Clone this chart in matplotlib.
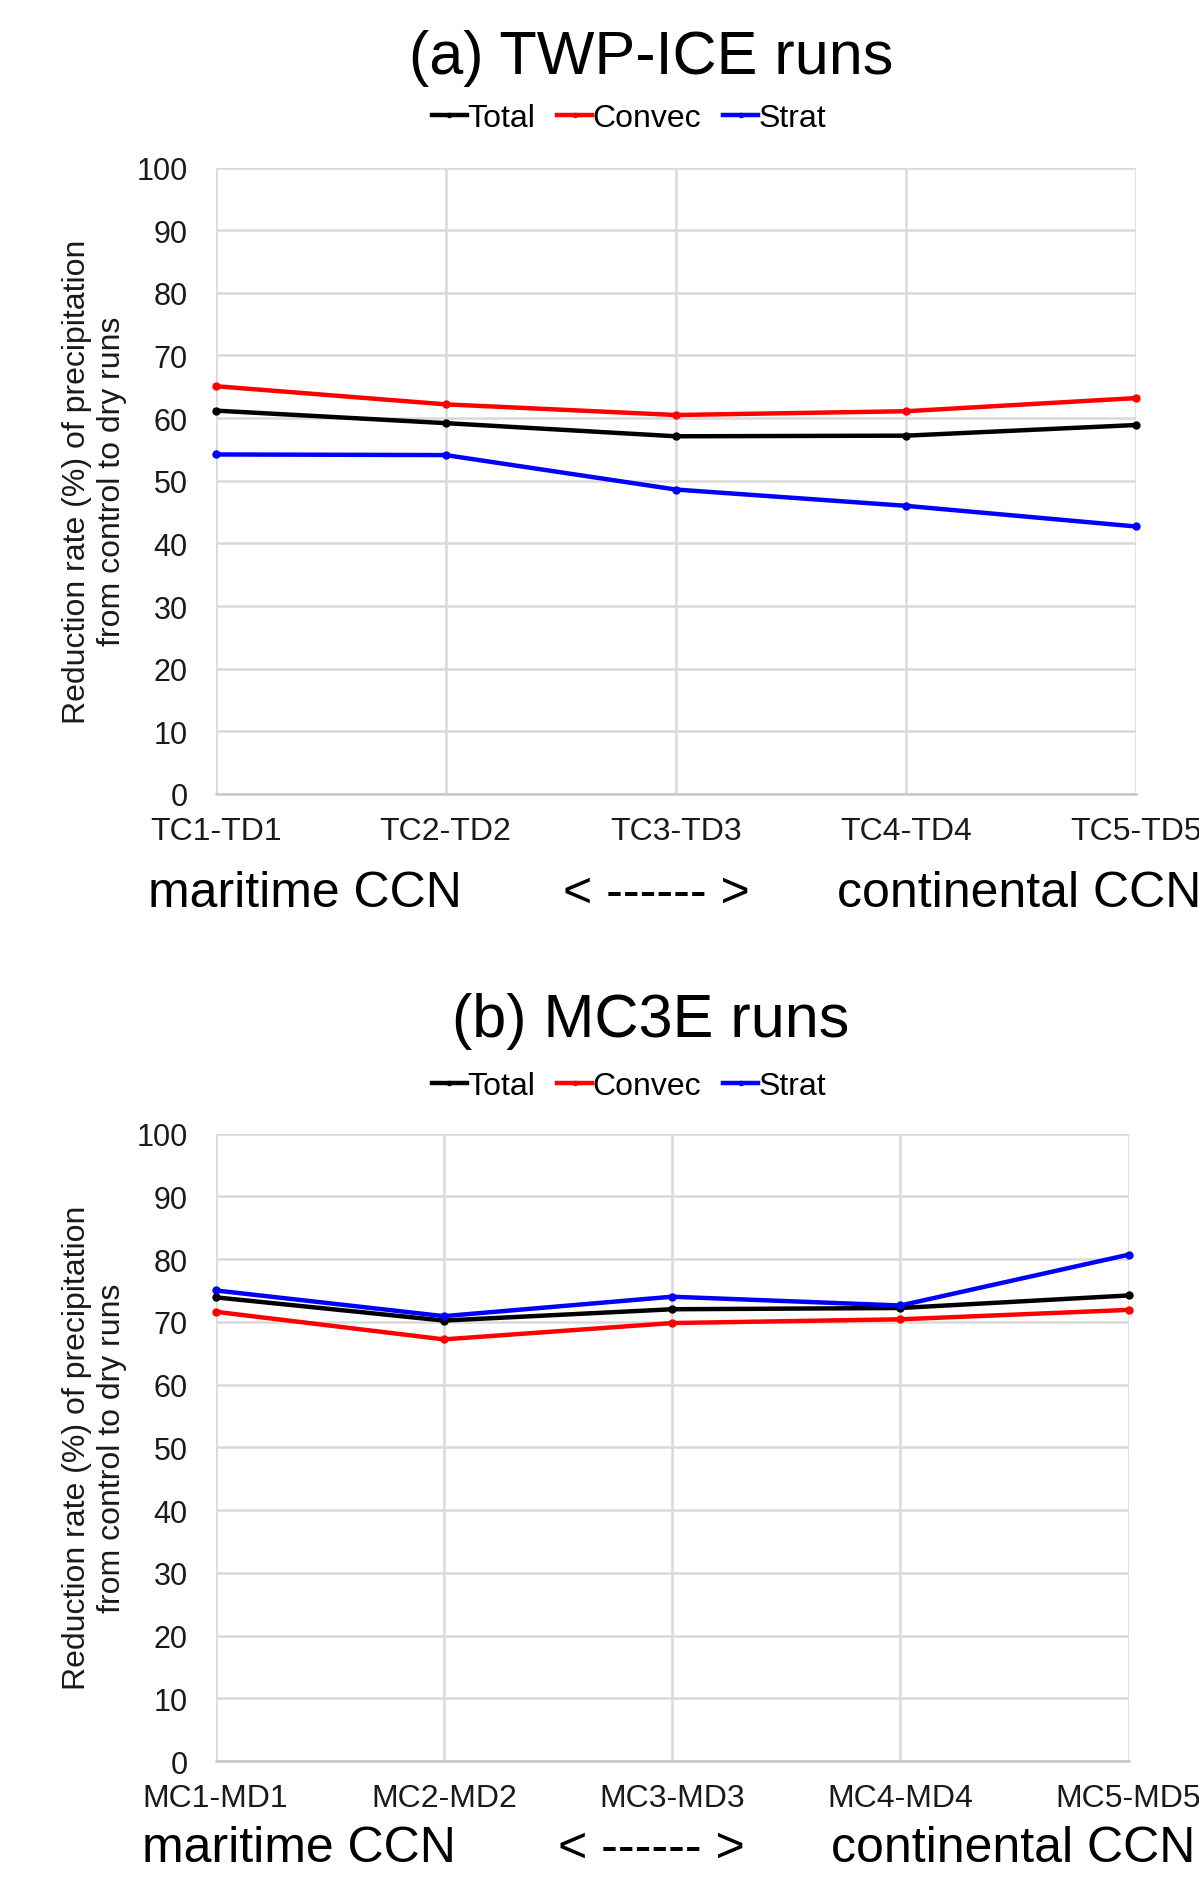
import matplotlib
matplotlib.use("Agg")
import matplotlib.pyplot as plt

## data
twp_labels = ["TC1-TD1", "TC2-TD2", "TC3-TD3", "TC4-TD4", "TC5-TD5"]
twp_total = [61.2, 59.2, 57.1, 57.2, 58.9]
twp_convec = [65.1, 62.2, 60.5, 61.1, 63.2]
twp_strat = [54.2, 54.1, 48.6, 46.0, 42.7]

mc3e_labels = ["MC1-MD1", "MC2-MD2", "MC3-MD3", "MC4-MD4", "MC5-MD5"]
mc3e_total = [73.9, 70.2, 72.0, 72.2, 74.2]
mc3e_convec = [71.6, 67.2, 69.8, 70.4, 71.9]
mc3e_strat = [75.0, 70.9, 74.0, 72.6, 80.7]

series_names = ["Total", "Convec", "Strat"]
series_colors = ["black", "red", "blue"]

plt.rcParams['font.family'] = ['Liberation Sans', 'DejaVu Sans']

fig = plt.figure(figsize=(11.99, 18.9), dpi=100)

panels = [
    ## rect, title, title y, legend y, ccn y, data
    ([0.1798, 0.5794, 0.7676, 0.3314], "(a) TWP-ICE runs", 0.969, 0.937, 0.527,
     twp_labels, [twp_total, twp_convec, twp_strat], [148, 656, 837]),
    ([0.1798, 0.0677, 0.7615, 0.3320], "(b) MC3E runs", 0.4595, 0.4249, 0.0215,
     mc3e_labels, [mc3e_total, mc3e_convec, mc3e_strat], [142, 651, 831]),
]

for rect, title, ty, ly, cy, labels, series, cx in panels:
    ax = fig.add_axes(rect)
    x = list(range(len(labels)))
    for vals, name, col in zip(series, series_names, series_colors):
        ax.plot(x, vals, color=col, lw=3.2, marker='o', ms=5, label=name,
                clip_on=False, zorder=3)
    ax.set_xlim(0, len(labels) - 1)
    ax.set_ylim(0, 100)
    ax.set_yticks(range(0, 101, 10))
    ax.set_xticks(x)
    ax.set_xticklabels(labels)
    ax.grid(True, color='#d9d9d9', lw=1.8)
    ax.set_axisbelow(True)
    for s in ['top', 'right', 'left']:
        ax.spines[s].set_visible(False)
    ax.spines['bottom'].set_color('#c8c8c8')
    ax.spines['bottom'].set_linewidth(1.8)
    ax.tick_params(length=0, colors='#1a1a1a')
    ax.tick_params(axis='y', pad=20, labelsize=22)
    ax.tick_params(axis='x', pad=16, labelsize=23)
    ax.set_ylabel("Reduction rate (%) of precipitation\nfrom control to dry runs",
                  fontsize=23, color='#1a1a1a', labelpad=7, linespacing=1.2)
    ## title and legend
    fig.text(0.543, ty, title, fontsize=44, ha='center', va='center')
    ax.legend(loc='center', bbox_to_anchor=(0.5245, ly), bbox_transform=fig.transFigure,
              ncol=3, frameon=False, fontsize=23, handlelength=1.1,
              handletextpad=0.0, columnspacing=0.7, markerscale=0.6)
    ## CCN annotation row
    fig.text(cx[0] / 1199, cy, "maritime CCN", fontsize=36, ha='left', va='center')
    fig.text(cx[1] / 1199, cy, "< ------ >", fontsize=36, ha='center', va='center')
    fig.text(cx[2] / 1199, cy, "continental CCN", fontsize=36, ha='left', va='center')

fig.savefig("out.png", dpi=100)
